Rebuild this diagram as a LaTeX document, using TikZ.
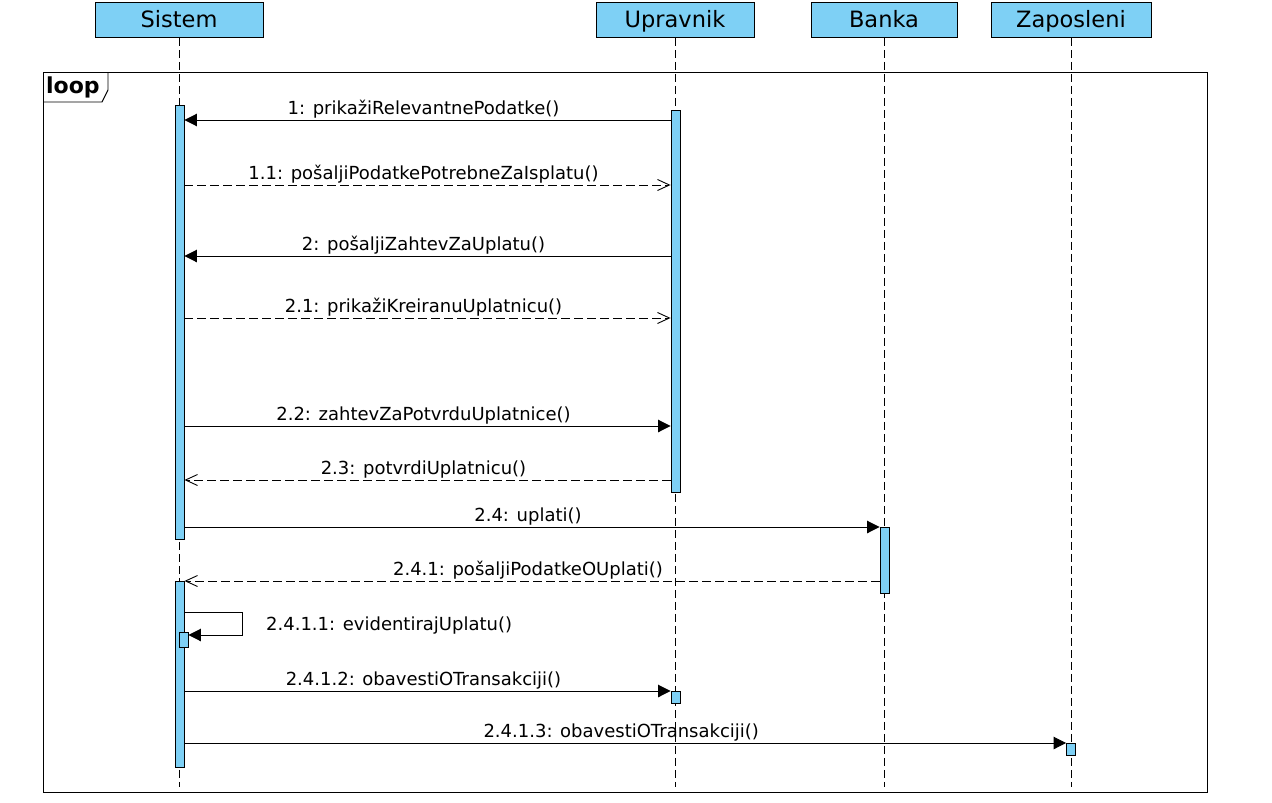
\documentclass[tikz,border=0pt]{standalone}
\usepackage{fontspec}
\setmainfont{DejaVu Sans}
\usetikzlibrary{arrows.meta}
\definecolor{actfill}{RGB}{126,208,245}

\tikzset{
  participant/.style={draw, fill=actfill, line width=0.9pt, minimum height=35pt,
    inner sep=0pt, text height=17pt, text depth=2pt, font=\fontsize{22.5}{26}\selectfont},
  lifeline/.style={line width=0.9pt, dash pattern=on 8pt off 4pt},
  bar/.style={draw, fill=actfill, line width=0.9pt, minimum width=9pt, inner sep=0pt},
  sync/.style={line width=0.9pt, -{Triangle[length=12.5pt,width=12.5pt]}},
  reply/.style={line width=0.9pt, dash pattern=on 9pt off 4pt,
    -{Straight Barb[length=12pt,width=11pt,line width=0.9pt]}},
  msgfont/.style={font=\fontsize{18}{21}\selectfont},
  lbl/.style={msgfont, anchor=base, inner sep=0pt, yshift=6pt, xshift=-4pt},
}

\begin{document}
\begin{tikzpicture}[x=1pt,y=-1pt]
\useasboundingbox (0,0) rectangle (1272,803);

% participants
\node[participant, minimum width=168pt] (sis) at (179,19.8) {Sistem};
\node[participant, minimum width=158pt] (upr) at (675,19.8) {Upravnik};
\node[participant, minimum width=146pt] (ban) at (884,19.8) {Banka};
\node[participant, minimum width=160pt] (zap) at (1071,19.8) {Zaposleni};

% lifelines
\foreach \p in {sis,upr,ban,zap}
  \draw[lifeline] (\p.south) -- (\p.south |- 0,787);

% loop combined fragment
\draw[line width=0.9pt] (43,72) rectangle (1207,792);
\draw[line width=0.9pt] (43,102) -- (102,102) -- (108,90) -- (108,72);
\node[anchor=base west, inner sep=0pt, font=\fontsize{22}{26}\selectfont\bfseries] (looplbl) at (46,93.5) {loop};

% activation bars
\node[bar, minimum height=434pt] (sa1) at (179.5,322) {};
\node[bar, minimum height=382pt] (ua1) at (675.5,301) {};
\node[bar, minimum height=66pt]  (ba1) at (884.5,560) {};
\node[bar, minimum height=186pt] (sa2) at (179.5,674) {};
\node[bar, minimum height=15pt]  (sa3) at (183.5,639.5) {};
\node[bar, minimum height=12pt]  (ua2) at (675.5,697) {};
\node[bar, minimum height=12pt]  (za1) at (1071,749) {};

% message rows
\coordinate (r1) at (0,120);
\coordinate (r2) at (0,185);
\coordinate (r3) at (0,256);
\coordinate (r4) at (0,318);
\coordinate (r5) at (0,426);
\coordinate (r6) at (0,480);
\coordinate (r7) at (0,527);
\coordinate (r8) at (0,581);
\coordinate (selfR) at (242,612);
\coordinate (r9) at (0,635);
\coordinate (r10) at (0,691);
\coordinate (r11) at (0,743);

% messages
\draw[sync] (ua1.west |- r1) -- node[lbl] (l1) {1: prikažiRelevantnePodatke()} (sa1.east |- r1);
\draw[reply] (sa1.east |- r2) -- node[lbl] (l2) {1.1: pošaljiPodatkePotrebneZaIsplatu()} (ua1.west |- r2);
\draw[sync] (ua1.west |- r3) -- node[lbl] (l3) {2: pošaljiZahtevZaUplatu()} (sa1.east |- r3);
\draw[reply] (sa1.east |- r4) -- node[lbl] (l4) {2.1: prikažiKreiranuUplatnicu()} (ua1.west |- r4);
\draw[sync] (sa1.east |- r5) -- node[lbl] (l5) {2.2: zahtevZaPotvrduUplatnice()} (ua1.west |- r5);
\draw[reply] (ua1.west |- r6) -- node[lbl] (l6) {2.3: potvrdiUplatnicu()} (sa1.east |- r6);
\draw[sync] (sa1.east |- r7) -- node[lbl] (l7) {2.4: uplati()} (ba1.west |- r7);
\draw[reply] (ba1.west |- r8) -- node[lbl] (l8) {2.4.1: pošaljiPodatkeOUplati()} (sa2.east |- r8);
\draw[sync] (sa2.east |- selfR) -- (selfR) |- (sa3.east |- r9);
\node[msgfont, anchor=base west, inner sep=0pt] (l9) at (266,630) {2.4.1.1: evidentirajUplatu()};
\draw[sync] (sa2.east |- r10) -- node[lbl] (l10) {2.4.1.2: obavestiOTransakciji()} (ua2.west |- r10);
\draw[sync] (sa2.east |- r11) -- node[lbl] (l11) {2.4.1.3: obavestiOTransakciji()} (za1.west |- r11);
\end{tikzpicture}
\end{document}
